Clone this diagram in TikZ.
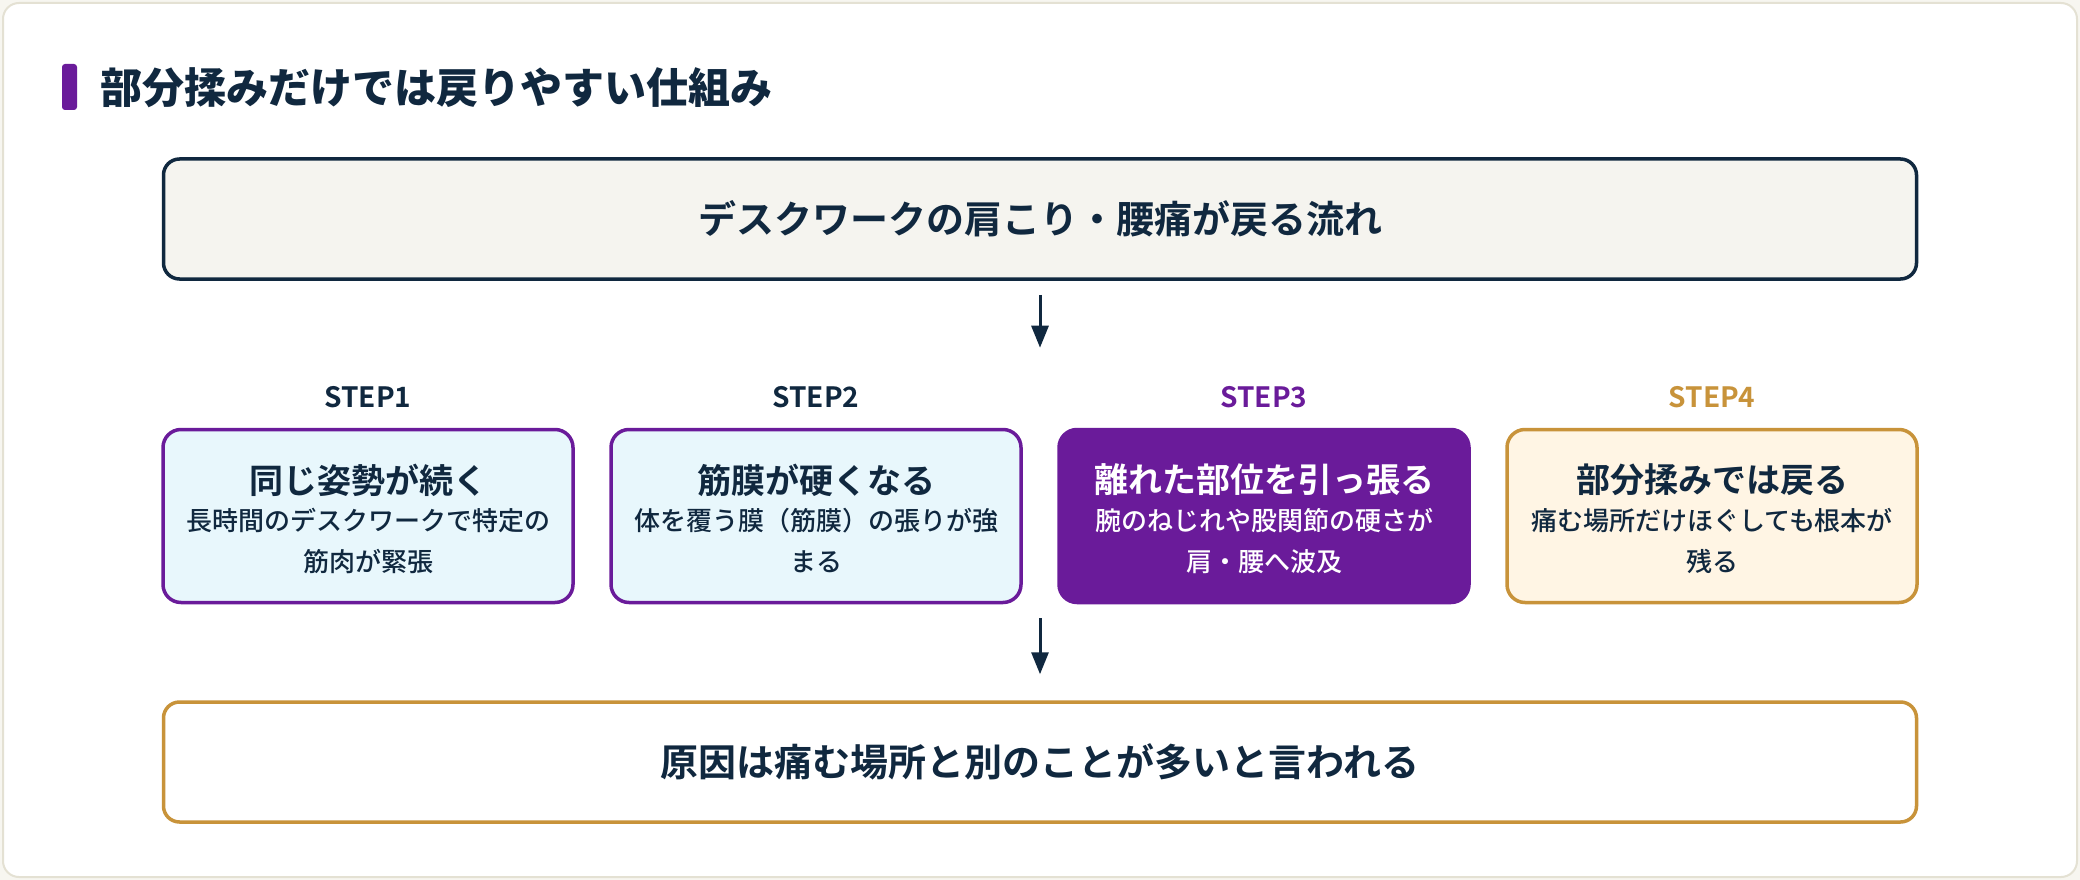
\documentclass[tikz,border=0pt]{standalone}
\usepackage{fontspec}
\setmainfont{Noto Sans CJK JP}[BoldFont={Noto Sans CJK JP Bold}]
\newfontfamily\jpheavy{Noto Sans CJK JP Black}
\newfontfamily\jpmedium{Noto Sans CJK JP Medium}
\usetikzlibrary{positioning,arrows.meta}
\definecolor{inkblue}{HTML}{10283F}
\definecolor{stepviolet}{HTML}{6A1B9A}
\definecolor{stepgold}{HTML}{C8933A}
\definecolor{paleblue}{HTML}{E8F7FC}
\definecolor{palegold}{HTML}{FFF5E4}
\definecolor{flowcream}{HTML}{F5F4EF}
\definecolor{framebeige}{HTML}{E4E1D3}
\definecolor{pagecream}{HTML}{F7F6F0}
\begin{document}
\begin{tikzpicture}[x=1pt,y=-1pt, % ------ flow of the steps -----------------
    wide/.style={draw, line width=3.5pt, rounded corners=16pt, minimum width=1753pt,
      minimum height=120pt, inner sep=0pt, text=inkblue,
      font=\fontsize{38}{46}\selectfont\bfseries},
    stepbox/.style={draw=stepviolet, fill=paleblue, line width=3.5pt, rounded corners=18pt,
      minimum width=410pt, minimum height=173pt, inner sep=0pt},
    steplabel/.style={font=\fontsize{28}{32}\selectfont\bfseries, text=inkblue},
    steptitle/.style={font=\fontsize{34}{40}\selectfont\bfseries, text=inkblue},
    stepnote/.style={font=\fontsize{26}{41}\selectfont\jpmedium, text=inkblue, align=center},
    flowarrow/.style={inkblue, line width=3pt, -{Triangle[length=22pt,width=17pt]}}]
    \fill [pagecream] (0,0) rectangle (2080,880);
    \draw [framebeige, fill=white, line width=2pt, rounded corners=16pt] (3,3) rectangle (2077,877);
    \fill [stepviolet, rounded corners=3pt] (62,64) rectangle (77,110);
    \node [anchor=west, text=inkblue, font=\fontsize{42}{50}\selectfont\jpheavy] (title) at (97,88)
      {部分揉みだけでは戻りやすい仕組み};
    % ------ top and bottom boxes -----------------
    \node [wide, draw=inkblue, fill=flowcream] (flow) at (1040,219) {デスクワークの肩こり・腰痛が戻る流れ};
    \node [wide, draw=stepgold, fill=white] (cause) at (1040,762) {原因は痛む場所と別のことが多いと言われる};
    % ------ the four steps -----------------
    \node [stepbox] (s1) at (368,516) {};
    \node [stepbox] (s2) at (816,516) {};
    \node [stepbox, fill=stepviolet] (s3) at (1264,516) {};
    \node [stepbox, draw=stepgold, fill=palegold] (s4) at (1712,516) {};
    \node [steplabel] (l1) at (368,397) {STEP1};
    \node [steplabel] (l2) at (816,397) {STEP2};
    \node [steplabel, text=stepviolet] (l3) at (1264,397) {STEP3};
    \node [steplabel, text=stepgold] (l4) at (1712,397) {STEP4};
    \node [steptitle] (t1) at ([yshift=36pt]s1.center) {同じ姿勢が続く};
    \node [steptitle] (t2) at ([yshift=36pt]s2.center) {筋膜が硬くなる};
    \node [steptitle, text=white] (t3) at ([yshift=36pt]s3.center) {離れた部位を引っ張る};
    \node [steptitle] (t4) at ([yshift=36pt]s4.center) {部分揉みでは戻る};
    \node [stepnote] (n1) at ([yshift=-25pt]s1.center) {長時間のデスクワークで特定の\\筋肉が緊張};
    \node [stepnote] (n2) at ([yshift=-25pt]s2.center) {体を覆う膜（筋膜）の張りが強\\まる};
    \node [stepnote, text=white] (n3) at ([yshift=-25pt]s3.center) {腕のねじれや股関節の硬さが\\肩・腰へ波及};
    \node [stepnote] (n4) at ([yshift=-25pt]s4.center) {痛む場所だけほぐしても根本が\\残る};
    % ------ arrows -----------------
    \draw [flowarrow, shorten <=14pt, shorten >=35pt] (flow.south) -- (flow.south |- l2.north);
    \draw [flowarrow, shorten <=14pt, shorten >=26pt] (flow.south |- s2.south) -- (cause.north);
\end{tikzpicture}
\end{document}
